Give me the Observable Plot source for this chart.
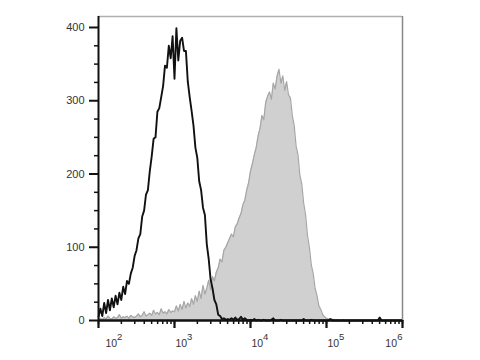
<!DOCTYPE html>
<html><head><meta charset="utf-8">
<script src="https://cdn.jsdelivr.net/npm/d3@7"></script>
<script src="https://cdn.jsdelivr.net/npm/@observablehq/plot@0.6"></script>
<style>html,body{margin:0;padding:0;background:#fff;} #chart svg{display:block}</style>
</head><body><div id="chart"></div>
<script>
// Histogram bins: exponent of 10 at bin start and width (log10 units)
const binStartExp = 2;
const binStepExp = 0.025;

// Control (black outline), counts per bin starting at 10^2
const blackCounts = [
  5,16,6,24,10,28,14,30,18,34,22,38,28,46,36,54,50,64,72,88,
  96,112,118,142,150,172,178,204,224,248,250,285,290,305,320,348,345,375,358,388,
  330,399,355,382,386,368,368,326,305,286,266,236,222,190,178,154,144,104,84,56,
  44,28,22,8,6,2,3,1,2,1,3,1,4,1,2,5,1,3,1,0,
  1,0,2,0,1,0,0,1,0,0,0,1,3,0,0,0,1,0,0,0,
  0,0,0,0,0,0,0,0,2,0,0,0,1,0,0,0,0,0,0,0,
  0,0,2,0,0,0,0,0,0,0,0,0,0,0,0,0,0,0,0,0,
  0,0,0,0,0,0,0,0,4,0,0,0,0,0,0,0,0,0,0,0,
  0
];

// Stained sample (grey filled), counts per bin starting at 10^2
const grayCounts = [
  2,3,1,4,2,6,3,2,5,3,4,8,3,5,4,6,3,7,5,4,
  6,9,5,7,12,6,8,10,7,14,9,11,8,16,10,12,9,15,11,13,
  12,20,13,22,15,26,17,24,19,30,22,34,26,40,30,48,36,44,55,42,
  60,54,66,72,84,80,96,100,106,112,118,114,128,132,140,146,158,164,178,188,
  204,214,226,236,252,262,280,274,298,306,312,302,324,316,334,343,324,334,314,326,
  308,304,280,266,238,226,198,186,160,144,116,100,76,64,44,34,20,15,8,5,
  3,2,1,2,1,0,1,0,0,1,0,0,0,0,0,0,0,0,0,0
];

const yMajorTicks = [0, 100, 200, 300, 400];
const yMinorTicks = [25, 50, 75, 125, 150, 175, 225, 250, 275, 325, 350, 375];
const xMajorTicks = [1e2, 1e3, 1e4, 1e5, 1e6];
const xTickBase = ["10", "10", "10", "10", "10"];
const xTickExps = ["2", "3", "4", "5", "6"];

const toRows = counts => counts.map((v, i) => ({x: 10 ** (binStartExp + i * binStepExp), y: v}));
const black = toRows(blackCounts);
const gray = toRows(grayCounts);
const labels = xMajorTicks.map((v, i) => ({x: v, base: xTickBase[i], exp: xTickExps[i]}));
const firstLabel = labels.slice(0, 1), midLabels = labels.slice(1, 4), lastLabel = labels.slice(4);

const font = "'Liberation Sans', Arial, Helvetica, sans-serif";
const lab = {fontFamily: font, fill: "#333", y: () => 0, lineAnchor: "bottom"};
const baseOpts = {...lab, text: "base", fontSize: 10.5, dy: 26.5};
const expOpts = {...lab, text: "exp", fontSize: 9.5, dy: 19};

const chart = Plot.plot({
  width: 480, height: 360,
  marginLeft: 98, marginRight: 78, marginTop: 16, marginBottom: 40,
  style: {fontFamily: font, fontSize: "11px", color: "#333", background: "#fff"},
  x: {type: "log", domain: [1e2, 1e6]},
  y: {domain: [0, 415]},
  marks: [
    Plot.areaY(gray, {x: "x", y: "y", fill: "#d0d0d0"}),
    Plot.lineY(gray, {x: "x", y: "y", stroke: "#a6a6a6", strokeWidth: 1.2}),
    Plot.lineY(black, {x: "x", y: "y", stroke: "#111", strokeWidth: 1.9}),
    Plot.ruleY([415], {stroke: "#b0b0b0", strokeWidth: 1.5}),
    Plot.ruleX([1e6], {stroke: "#888", strokeWidth: 1.5}),
    Plot.axisY({ticks: yMajorTicks, tickSize: 9, tickPadding: 5, strokeWidth: 2, stroke: "#111", fill: "#333", label: null}),
    Plot.axisY({ticks: yMinorTicks, tickSize: 4, strokeWidth: 1.5, stroke: "#111", tickFormat: () => "", label: null}),
    Plot.axisX({ticks: 40, tickSize: 4, strokeWidth: 1.5, stroke: "#111", tickFormat: () => "", label: null}),
    Plot.axisX({ticks: xMajorTicks, tickSize: 8, strokeWidth: 2.2, stroke: "#111", tickFormat: () => "", label: null}),
    Plot.ruleX([1e2], {stroke: "#111", strokeWidth: 2}),
    Plot.ruleY([0], {stroke: "#111", strokeWidth: 2.5}),
    Plot.text(firstLabel, {...baseOpts, x: "x", textAnchor: "start", dx: 7}),
    Plot.text(firstLabel, {...expOpts, x: "x", textAnchor: "start", dx: 18.5}),
    Plot.text(midLabels, {...baseOpts, x: "x", textAnchor: "start", dx: 1}),
    Plot.text(midLabels, {...expOpts, x: "x", textAnchor: "start", dx: 12.5}),
    Plot.text(lastLabel, {...baseOpts, x: "x", textAnchor: "end", dx: -5.5}),
    Plot.text(lastLabel, {...expOpts, x: "x", textAnchor: "end", dx: 0})
  ]
});
document.getElementById("chart").appendChild(chart);
</script>
</body></html>
